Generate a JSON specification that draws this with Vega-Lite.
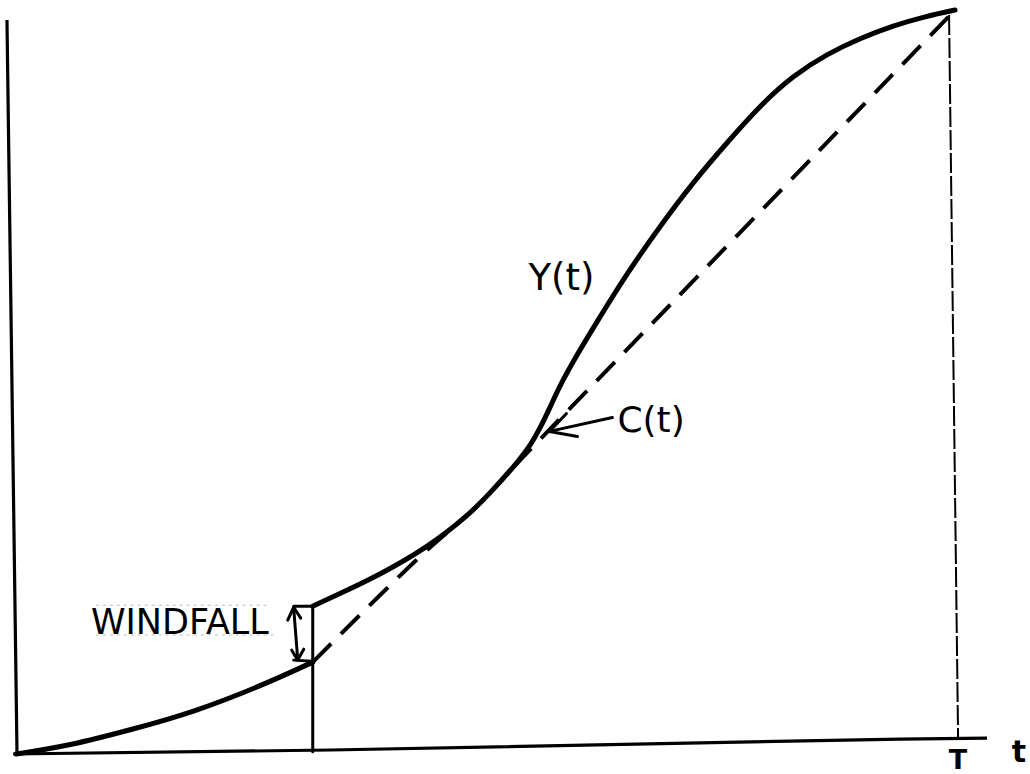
{
  "$schema": "https://vega.github.io/schema/vega-lite/v6.json",
  "autosize": {"type": "fit", "contains": "padding"},
  "width": 1030,
  "height": 774,
  "padding": 0,
  "background": "white",
  "config": {"view": {"stroke": null}},
  "datasets": {
    "ycurve": [
      {"series": "Y1", "o": 0, "t": 0.0, "v": 0.0},
      {"series": "Y1", "o": 1, "t": 0.553, "v": 0.107},
      {"series": "Y1", "o": 2, "t": 1.255, "v": 0.336},
      {"series": "Y1", "o": 3, "t": 1.894, "v": 0.564},
      {"series": "Y1", "o": 4, "t": 2.606, "v": 0.913},
      {"series": "Y1", "o": 5, "t": 3.16, "v": 1.235},
      {"series": "Y2", "o": 0, "t": 3.16, "v": 1.987},
      {"series": "Y2", "o": 1, "t": 3.457, "v": 2.161},
      {"series": "Y2", "o": 2, "t": 3.883, "v": 2.416},
      {"series": "Y2", "o": 3, "t": 4.383, "v": 2.779},
      {"series": "Y2", "o": 4, "t": 4.809, "v": 3.195},
      {"series": "Y2", "o": 5, "t": 5.085, "v": 3.557},
      {"series": "Y2", "o": 6, "t": 5.34, "v": 3.919},
      {"series": "Y2", "o": 7, "t": 5.479, "v": 4.148},
      {"series": "Y2", "o": 8, "t": 5.585, "v": 4.389},
      {"series": "Y2", "o": 9, "t": 5.691, "v": 4.671},
      {"series": "Y2", "o": 10, "t": 5.798, "v": 4.966},
      {"series": "Y2", "o": 11, "t": 5.957, "v": 5.329},
      {"series": "Y2", "o": 12, "t": 6.149, "v": 5.732},
      {"series": "Y2", "o": 13, "t": 6.511, "v": 6.47},
      {"series": "Y2", "o": 14, "t": 6.862, "v": 7.101},
      {"series": "Y2", "o": 15, "t": 7.213, "v": 7.69},
      {"series": "Y2", "o": 16, "t": 7.574, "v": 8.221},
      {"series": "Y2", "o": 17, "t": 7.926, "v": 8.72},
      {"series": "Y2", "o": 18, "t": 8.277, "v": 9.12},
      {"series": "Y2", "o": 19, "t": 8.638, "v": 9.41},
      {"series": "Y2", "o": 20, "t": 8.989, "v": 9.62},
      {"series": "Y2", "o": 21, "t": 9.34, "v": 9.79},
      {"series": "Y2", "o": 22, "t": 9.702, "v": 9.92},
      {"series": "Y2", "o": 23, "t": 10.0, "v": 10.0}
    ],
    "ccurve": [
      {"series": "C", "o": 0, "t": 3.16, "v": 1.235},
      {"series": "C", "o": 1, "t": 4.383, "v": 2.779},
      {"series": "C", "o": 2, "t": 4.809, "v": 3.195},
      {"series": "C", "o": 3, "t": 5.085, "v": 3.557},
      {"series": "C", "o": 4, "t": 5.34, "v": 3.919},
      {"series": "C", "o": 5, "t": 5.479, "v": 4.094},
      {"series": "C", "o": 6, "t": 10.0, "v": 10.0}
    ],
    "axes": [
      {"series": "yaxis", "o": 0, "t": -0.096, "v": 9.866},
      {"series": "yaxis", "o": 1, "t": 0.011, "v": 0.0},
      {"series": "xaxis", "o": 0, "t": -0.03, "v": 0.0},
      {"series": "xaxis", "o": 1, "t": 3.351, "v": 0.054},
      {"series": "xaxis", "o": 2, "t": 9.415, "v": 0.201},
      {"series": "xaxis", "o": 3, "t": 10.34, "v": 0.215}
    ],
    "thin": [
      {"series": "jump", "o": 0, "t": 3.16, "v": 1.987},
      {"series": "jump", "o": 1, "t": 3.16, "v": 0.03},
      {"series": "wshaft", "o": 0, "t": 2.957, "v": 1.96},
      {"series": "wshaft", "o": 1, "t": 3.0, "v": 1.275},
      {"series": "wtop", "o": 0, "t": 2.894, "v": 1.799},
      {"series": "wtop", "o": 1, "t": 2.957, "v": 1.973},
      {"series": "wtop", "o": 2, "t": 3.032, "v": 1.826},
      {"series": "wtoptick", "o": 0, "t": 2.957, "v": 1.987},
      {"series": "wtoptick", "o": 1, "t": 3.16, "v": 1.987},
      {"series": "wbot", "o": 0, "t": 2.936, "v": 1.396},
      {"series": "wbot", "o": 1, "t": 3.0, "v": 1.262},
      {"series": "wbot", "o": 2, "t": 3.064, "v": 1.409},
      {"series": "wbottick", "o": 0, "t": 2.957, "v": 1.262},
      {"series": "wbottick", "o": 1, "t": 3.16, "v": 1.248},
      {"series": "cshaft", "o": 0, "t": 6.351, "v": 4.523},
      {"series": "cshaft", "o": 1, "t": 5.681, "v": 4.336},
      {"series": "chead", "o": 0, "t": 5.862, "v": 4.577},
      {"series": "chead", "o": 1, "t": 5.681, "v": 4.336},
      {"series": "chead", "o": 2, "t": 5.979, "v": 4.268}
    ],
    "tline": [
      {"series": "T", "o": 0, "t": 9.936, "v": 9.933},
      {"series": "T", "o": 1, "t": 10.032, "v": 0.228}
    ],
    "guides": [
      {"series": "g1", "o": 0, "t": 0.85, "v": 2.0},
      {"series": "g1", "o": 1, "t": 2.7, "v": 2.0},
      {"series": "g2", "o": 0, "t": 0.85, "v": 1.6},
      {"series": "g2", "o": 1, "t": 2.75, "v": 1.6}
    ],
    "labels": [
      {"label": "Y(t)", "t": 5.457, "v": 6.242, "size": 37},
      {"label": "C(t)", "t": 6.404, "v": 4.322, "size": 36},
      {"label": "WINDFALL", "t": 0.798, "v": 1.611, "size": 35}
    ],
    "axislabels": [
      {"label": "T", "t": 10.032, "v": -0.201, "size": 27},
      {"label": "t", "t": 10.68, "v": -0.107, "size": 30}
    ]
  },
  "encoding": {
    "x": {"field": "t", "type": "quantitative", "scale": {"domain": [-0.15957, 10.79787], "nice": false, "zero": false}, "axis": null},
    "y": {"field": "v", "type": "quantitative", "scale": {"domain": [-0.25503, 10.13423], "nice": false, "zero": false}, "axis": null}
  },
  "layer": [
    {
      "data": {"name": "guides"},
      "mark": {"type": "line", "stroke": "#bbbbbb", "strokeWidth": 1, "strokeDash": [3, 4]},
      "encoding": {"detail": {"field": "series"}, "order": {"field": "o"}}
    },
    {
      "data": {"name": "tline"},
      "mark": {"type": "line", "stroke": "black", "strokeWidth": 2, "strokeDash": [20, 3]},
      "encoding": {"detail": {"field": "series"}, "order": {"field": "o"}}
    },
    {
      "data": {"name": "axes"},
      "mark": {"type": "line", "stroke": "black", "strokeWidth": 3.2},
      "encoding": {"detail": {"field": "series"}, "order": {"field": "o"}}
    },
    {
      "data": {"name": "ccurve"},
      "mark": {"type": "line", "stroke": "black", "strokeWidth": 4, "strokeDash": [26, 14], "interpolate": "basis"},
      "encoding": {"detail": {"field": "series"}, "order": {"field": "o"}}
    },
    {
      "data": {"name": "ycurve"},
      "mark": {"type": "line", "stroke": "black", "strokeWidth": 5, "interpolate": "basis", "strokeCap": "round"},
      "encoding": {"detail": {"field": "series"}, "order": {"field": "o"}}
    },
    {
      "data": {"name": "thin"},
      "mark": {"type": "line", "stroke": "black", "strokeWidth": 3, "strokeCap": "round", "strokeJoin": "round"},
      "encoding": {"detail": {"field": "series"}, "order": {"field": "o"}}
    },
    {
      "data": {"name": "labels"},
      "mark": {"type": "text", "font": "DejaVu Sans", "align": "left", "baseline": "alphabetic", "color": "black"},
      "encoding": {
        "text": {"field": "label"},
        "size": {"field": "size", "type": "quantitative", "scale": null}
      }
    },
    {
      "data": {"name": "axislabels"},
      "mark": {"type": "text", "font": "DejaVu Sans", "fontWeight": "bold", "align": "center", "baseline": "alphabetic", "color": "black"},
      "encoding": {
        "text": {"field": "label"},
        "size": {"field": "size", "type": "quantitative", "scale": null}
      }
    }
  ]
}
